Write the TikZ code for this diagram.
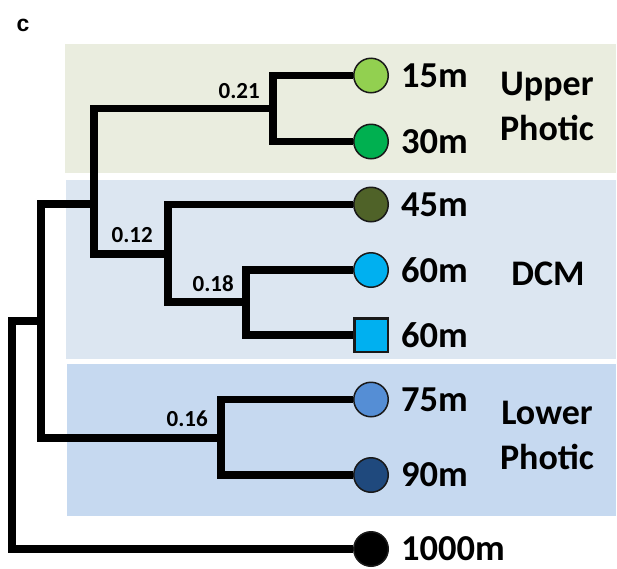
\documentclass[tikz,border=0pt]{standalone}
\usepackage{fontspec}
\setmainfont{Carlito}
\newfontfamily\panelfont{Liberation Sans}
\usepackage{tikz}
\usetikzlibrary{positioning}
\definecolor{upperband}{HTML}{EAEDDF}
\definecolor{dcmband}{HTML}{DCE6F1}
\definecolor{lowerband}{HTML}{C6D9F0}
\definecolor{green15}{HTML}{92D050}
\definecolor{green30}{HTML}{00B050}
\definecolor{olive45}{HTML}{4F6228}
\definecolor{cyan60}{HTML}{00B0F0}
\definecolor{blue75}{HTML}{558ED5}
\definecolor{navy90}{HTML}{1F497D}
\tikzstyle{leaf} = [circle, draw=black!90, line width=1.5pt, minimum size=34.5pt, inner sep=0pt]
\tikzstyle{branch} = [line width=7.7pt, line join=miter]
\tikzstyle{depthlabel} = [font=\fontsize{36.5}{40}\selectfont\bfseries, inner sep=0pt]
\tikzstyle{support} = [font=\fontsize{23}{26}\selectfont\bfseries, inner sep=0pt]
\tikzstyle{zone} = [font=\fontsize{36}{45}\selectfont\bfseries, align=center, inner sep=0pt]

\begin{document}
\begin{tikzpicture}[x=1pt, y=-1pt]
    \useasboundingbox (0,0) rectangle (617,568);

    \fill[upperband] (65,44) rectangle (616,173);
    \fill[dcmband] (66,180) rectangle (616,359);
    \fill[lowerband] (67,364) rectangle (616,516);

    \node (panel) [font={\panelfont\fontsize{23}{26}\selectfont\bfseries}] at (23,25) {c};

    \node (l15) [leaf, fill=green15] at (371,75.5) {};
    \node (l30) [leaf, fill=green30] at (371,141.5) {};
    \node (l45) [leaf, fill=olive45] at (371,204.5) {};
    \node (l60) [leaf, fill=cyan60] at (371,270) {};
    \node (s60) [leaf, rectangle, fill=cyan60, line width=2.5pt, minimum size=33.5pt] at (371,335) {};
    \node (l75) [leaf, fill=blue75] at (371,399.5) {};
    \node (l90) [leaf, fill=navy90] at (371,475) {};
    \node (l1000) [leaf, fill=black] at (371,549) {};

    \coordinate (a21) at (273,108.5);
    \coordinate (a18) at (246,302);
    \coordinate (a45) at (168,254);
    \coordinate (a12) at (94,204);
    \coordinate (a16) at (221,438);
    \coordinate (a41) at (41,321);
    \coordinate (root) at (12,321);

    \draw [branch] (l15) -| (a21) |- (l30);
    \draw [branch] (l60) -| (a18) |- (s60);
    \draw [branch] (l45) -| (a45) |- (a18);
    \draw [branch] (a21) -| (a12) |- (a45);
    \draw [branch] (l75) -| (a16) |- (l90);
    \draw [branch] (a12) -| (a41) |- (a16);
    \draw [branch] (a41) -- (root) |- (l1000);

    \node (b21) [support, above left=10pt and 13pt of a21] {0.21};
    \node (b12) [support, above left=11pt and 15pt of a45] {0.12};
    \node (b18) [support, above left=10pt and 12pt of a18] {0.18};
    \node (b16) [support, above left=11pt and 13pt of a16] {0.16};

    \node (t15) [depthlabel, right=12pt of l15] {15m};
    \node (t30) [depthlabel, right=12pt of l30] {30m};
    \node (t45) [depthlabel, right=12pt of l45] {45m};
    \node (t60) [depthlabel, right=12pt of l60] {60m};
    \node (u60) [depthlabel, right=12pt of s60] {60m};
    \node (t75) [depthlabel, right=12pt of l75] {75m};
    \node (t90) [depthlabel, right=12pt of l90] {90m};
    \node (t1000) [depthlabel, right=12pt of l1000] {1000m};

    \node (upper) [zone] at (547,106.5) {Upper\\Photic};
    \node (dcm) [zone] at (548,273.5) {DCM};
    \node (lower) [zone] at (547,435.5) {Lower\\Photic};
  \end{tikzpicture}
\end{document}
